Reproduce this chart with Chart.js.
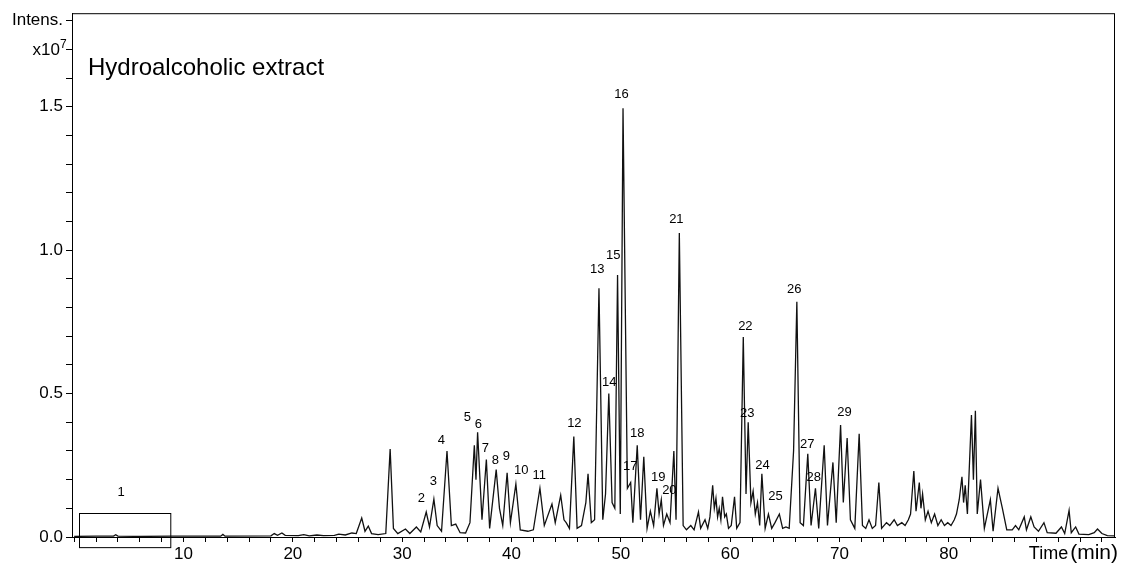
<!DOCTYPE html>
<html>
<head>
<meta charset="utf-8">
<script src="https://cdn.jsdelivr.net/npm/chart.js@4"></script>
<style>
  html, body { margin: 0; padding: 0; background: #fff; }
  #chromatogram { display: block; }
</style>
</head>
<body>
<canvas id="chromatogram" width="1122" height="563"></canvas>
<script>
// retention time (min) and intensity (x10^7)
const retentionTimes = [
    0.0, 2.0, 3.6, 3.8, 4.0, 6.0, 9.0, 13.4, 13.6, 13.8,
    18.0, 18.3, 18.6, 19.0, 19.3, 20.5, 21.0, 21.5, 22.2, 22.8,
    23.8, 24.2, 24.8, 25.4, 25.8, 26.3, 26.6, 26.9, 27.2, 27.8,
    28.5, 28.9, 29.2, 29.6, 30.3, 30.7, 31.3, 31.7, 32.2, 32.5,
    32.9, 33.2, 33.6, 34.1, 34.5, 34.9, 35.3, 35.8, 36.2, 36.6,
    36.75, 36.9, 37.3, 37.7, 38.0, 38.6, 38.9, 39.2, 39.6, 39.9,
    40.4, 40.8, 41.5, 42.0, 42.6, 43.0, 43.7, 44.0, 44.5, 44.8,
    45.0, 45.3, 45.7, 46.0, 46.4, 46.8, 47.0, 47.3, 47.6, 48.0,
    48.35, 48.6, 48.9, 49.2, 49.45, 49.7, 49.95, 50.2, 50.6, 50.9,
    51.1, 51.5, 51.8, 52.1, 52.4, 52.7, 53.0, 53.3, 53.5, 53.7,
    53.9, 54.2, 54.5, 54.85, 55.05, 55.35, 55.7, 56.0, 56.4, 56.7,
    57.1, 57.3, 57.7, 57.95, 58.15, 58.4, 58.55, 58.7, 58.85, 59.0,
    59.15, 59.3, 59.5, 59.65, 59.85, 60.1, 60.4, 60.6, 60.9, 61.2,
    61.45, 61.65, 61.9, 62.1, 62.3, 62.5, 62.7, 62.9, 63.2, 63.5,
    63.8, 64.1, 64.5, 64.8, 65.1, 65.4, 65.8, 66.1, 66.4, 66.7,
    67.1, 67.4, 67.8, 68.1, 68.6, 68.9, 69.4, 69.7, 70.1, 70.35,
    70.7, 71.0, 71.4, 71.8, 72.1, 72.4, 72.7, 73.0, 73.3, 73.6,
    73.85, 74.3, 74.6, 75.0, 75.3, 75.7, 76.0, 76.3, 76.5, 76.8,
    77.0, 77.3, 77.45, 77.6, 77.85, 78.1, 78.4, 78.7, 79.0, 79.3,
    79.6, 79.9, 80.2, 80.5, 80.7, 80.95, 81.2, 81.35, 81.5, 81.7,
    82.07, 82.25, 82.43, 82.6, 82.9, 83.25, 83.8, 84.05, 84.5, 84.7,
    84.9, 85.3, 85.8, 86.1, 86.4, 86.9, 87.1, 87.5, 87.8, 88.2,
    88.7, 89.0, 89.8, 90.3, 90.6, 91.0, 91.2, 91.6, 91.9, 92.8,
    93.3, 93.6, 94.0, 94.5, 95.2
];
const intensities = [
    0.002, 0.003, 0.003, 0.008, 0.003, 0.002, 0.003, 0.003, 0.009, 0.003,
    0.004, 0.012, 0.006, 0.014, 0.006, 0.005, 0.008, 0.004, 0.007, 0.005,
    0.006, 0.010, 0.007, 0.014, 0.012, 0.066, 0.020, 0.038, 0.012, 0.008,
    0.012, 0.307, 0.030, 0.012, 0.028, 0.012, 0.035, 0.018, 0.087, 0.035,
    0.132, 0.040, 0.020, 0.300, 0.040, 0.045, 0.015, 0.014, 0.050, 0.320,
    0.200, 0.365, 0.060, 0.270, 0.030, 0.235, 0.100, 0.040, 0.224, 0.050,
    0.185, 0.025, 0.020, 0.025, 0.170, 0.040, 0.115, 0.050, 0.146, 0.060,
    0.050, 0.030, 0.350, 0.030, 0.040, 0.120, 0.220, 0.050, 0.060, 0.867,
    0.060, 0.150, 0.500, 0.120, 0.100, 0.913, 0.080, 1.495, 0.170, 0.190,
    0.050, 0.320, 0.060, 0.280, 0.030, 0.090, 0.040, 0.170, 0.080, 0.130,
    0.040, 0.080, 0.050, 0.300, 0.060, 1.060, 0.040, 0.025, 0.040, 0.025,
    0.087, 0.030, 0.060, 0.030, 0.070, 0.180, 0.100, 0.135, 0.070, 0.100,
    0.060, 0.140, 0.070, 0.080, 0.030, 0.040, 0.140, 0.030, 0.050, 0.697,
    0.150, 0.400, 0.120, 0.160, 0.080, 0.120, 0.040, 0.220, 0.030, 0.080,
    0.030, 0.050, 0.080, 0.030, 0.035, 0.030, 0.300, 0.820, 0.050, 0.040,
    0.290, 0.040, 0.170, 0.030, 0.320, 0.040, 0.260, 0.050, 0.390, 0.120,
    0.345, 0.060, 0.030, 0.360, 0.040, 0.030, 0.060, 0.030, 0.040, 0.190,
    0.030, 0.050, 0.040, 0.060, 0.040, 0.050, 0.040, 0.060, 0.080, 0.230,
    0.090, 0.190, 0.100, 0.150, 0.060, 0.090, 0.050, 0.080, 0.040, 0.060,
    0.040, 0.050, 0.040, 0.060, 0.080, 0.130, 0.210, 0.120, 0.180, 0.080,
    0.425, 0.200, 0.440, 0.080, 0.200, 0.030, 0.130, 0.020, 0.170, 0.135,
    0.100, 0.025, 0.025, 0.040, 0.025, 0.070, 0.025, 0.070, 0.035, 0.020,
    0.050, 0.015, 0.013, 0.035, 0.012, 0.093, 0.015, 0.035, 0.010, 0.008,
    0.015, 0.028, 0.012, 0.005, 0.004
];

// peak numbers and where their labels sit (time, intensity x10^7)
const peakNumbers = ["1", "2", "3", "4", "5", "6", "7", "8", "9", "10",
    "11", "12", "13", "14", "15", "16", "17", "18", "19", "20",
    "21", "22", "23", "24", "25", "26", "27", "28", "29"];
const labelTimes = [4.3, 31.75, 32.85, 33.58, 35.96, 36.96, 37.6, 38.52, 39.52, 40.9,
    42.54, 45.75, 47.85, 48.95, 49.31, 50.05, 50.87, 51.51, 53.43, 54.44,
    55.08, 61.39, 61.57, 62.95, 64.14, 65.87, 67.06, 67.64, 70.45];
const labelLevels = [0.157, 0.136, 0.195, 0.338, 0.418, 0.394, 0.31, 0.268, 0.282, 0.233,
    0.213, 0.397, 0.934, 0.54, 0.983, 1.544, 0.247, 0.362, 0.209, 0.164,
    1.108, 0.735, 0.432, 0.251, 0.143, 0.864, 0.321, 0.206, 0.436];

const xTicks = [];
for (let t = 0; t <= 94; t += 2) xTicks.push(t);
const yTicks = [];
for (let i = 0; i <= 18; i++) yTicks.push(i / 10);

const FONT = "'Liberation Sans', Arial, sans-serif";

const decorations = {
    id: "decorations",
    afterDraw(chart) {
        const { ctx, chartArea, scales } = chart;
        const x = scales.x, y = scales.y;
        ctx.save();
        // frame
        ctx.strokeStyle = "#000";
        ctx.lineWidth = 1;
        ctx.strokeRect(chartArea.left + 0.5, chartArea.top + 0.5,
            chartArea.right - chartArea.left - 1, chartArea.bottom - chartArea.top);

        // box around peak 1 region
        const bx0 = x.getPixelForValue(0.45), bx1 = x.getPixelForValue(8.8);
        const by0 = y.getPixelForValue(0.084), by1 = y.getPixelForValue(-0.035);
        ctx.strokeRect(Math.round(bx0) + 0.5, Math.round(by0) + 0.5, bx1 - bx0, by1 - by0);

        ctx.fillStyle = "#000";

        // x10^7 multiplier next to the 1.7 tick
        const yMul = y.getPixelForValue(1.7);
        ctx.font = "17px " + FONT;
        ctx.textAlign = "right";
        ctx.textBaseline = "middle";
        ctx.fillText("x10", y.right - 12, yMul + 1);
        ctx.font = "12px " + FONT;
        ctx.textAlign = "left";
        ctx.fillText("7", y.right - 12, yMul - 5);

        // title
        ctx.font = "24px " + FONT;
        ctx.textAlign = "left";
        ctx.textBaseline = "alphabetic";
        ctx.fillText("Hydroalcoholic extract", chartArea.left + 16, chartArea.top + 62);

        // peak labels
        ctx.font = "13px " + FONT;
        ctx.textAlign = "center";
        ctx.textBaseline = "middle";
        peakNumbers.forEach((n, i) => {
            ctx.fillText(n, x.getPixelForValue(labelTimes[i]), y.getPixelForValue(labelLevels[i]));
        });

        // axis caption at the end of the time axis
        ctx.textAlign = "right";
        ctx.textBaseline = "alphabetic";
        ctx.font = "21px " + FONT;
        const minW = ctx.measureText("(min)").width;
        ctx.fillText("(min)", chart.width - 4, chartArea.bottom + 22);
        ctx.font = "18px " + FONT;
        ctx.fillText("Time", chart.width - 6 - minW, chartArea.bottom + 22);
        ctx.restore();
    }
};

new Chart(document.querySelector("#chromatogram").getContext("2d"), {
    type: "line",
    data: {
        datasets: [
            {
                data: retentionTimes.map((t, i) => ({ x: t, y: intensities[i] })),
                borderColor: "#111",
                borderWidth: 1.3,
                pointRadius: 0,
                tension: 0,
                fill: false,
            },
        ],
    },
    options: {
        responsive: false,
        animation: false,
        devicePixelRatio: 1,
        layout: { padding: { top: 13, right: 7, left: 0, bottom: 0 } },
        plugins: {
            legend: { display: false },
            tooltip: { enabled: false },
        },
        scales: {
            x: {
                type: "linear",
                min: -0.2,
                max: 95.2,
                afterBuildTicks: (scale) => {
                    scale.ticks = xTicks.map((v) => ({ value: v }));
                },
                afterFit: (scale) => { scale.height = 26; },
                ticks: {
                    autoSkip: false,
                    maxRotation: 0,
                    padding: 2,
                    color: "#000",
                    font: { family: FONT, size: 17 },
                    callback: (v) => (v % 10 === 0 && v >= 10 && v <= 80 ? String(v) : ""),
                },
                grid: {
                    drawOnChartArea: false,
                    drawTicks: true,
                    tickLength: 5,
                    color: "#000",
                },
                border: { display: true, color: "#000", width: 1 },
            },
            y: {
                type: "linear",
                min: 0,
                max: 1.826,
                afterBuildTicks: (scale) => {
                    scale.ticks = yTicks.map((v) => ({ value: v }));
                },
                afterFit: (scale) => { scale.width = 72; },
                ticks: {
                    padding: 3,
                    color: "#000",
                    font: { family: FONT, size: 17 },
                    callback: (v) => {
                        const s = v.toFixed(1);
                        if (s === "1.8") return "Intens.";
                        if (["0.0", "0.5", "1.0", "1.5"].includes(s)) return s;
                        return "";
                    },
                },
                grid: {
                    drawOnChartArea: false,
                    drawTicks: true,
                    tickLength: 6,
                    color: "#000",
                },
                border: { display: true, color: "#000", width: 1 },
            },
        },
    },
    plugins: [decorations],
});
</script>
</body>
</html>
